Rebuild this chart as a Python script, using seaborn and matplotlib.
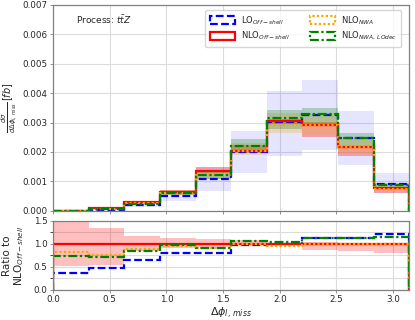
import numpy as np
import matplotlib
matplotlib.use("Agg")
import matplotlib.pyplot as plt
from matplotlib.patches import Patch
from matplotlib.ticker import MultipleLocator
import seaborn as sns

# ---- data ----
edges = np.pi * np.arange(11) / 10.0
nlo = np.array([0.000012, 0.00009, 0.00029, 0.00064, 0.00135, 0.00205, 0.00305, 0.00292, 0.00218, 0.00077])
nlo_lo = np.array([0.0000062, 0.0000495, 0.000247, 0.000589, 0.00127, 0.00199, 0.00296, 0.00251, 0.00185, 0.00062])
nlo_hi = np.array([0.0000192, 0.00012, 0.00034, 0.00072, 0.00149, 0.00223, 0.00311, 0.00301, 0.00222, 0.00078])
lo = np.array([0.0000044, 0.0000432, 0.000191, 0.000518, 0.00108, 0.00201, 0.00302, 0.00327, 0.00246, 0.00093])
lo_lo = np.array([0.0000028, 0.000027, 0.00012, 0.00033, 0.00066, 0.00128, 0.00188, 0.00207, 0.00156, 0.00060])
lo_hi = np.array([0.000006, 0.000059, 0.00026, 0.00071, 0.00148, 0.00273, 0.00408, 0.00446, 0.00338, 0.00128])
nwa = np.array([0.0000098, 0.0000684, 0.000255, 0.000614, 0.00123, 0.00203, 0.00293, 0.00292, 0.00218, 0.00076])
nwa_lo = np.array([0.0000086, 0.0000602, 0.000224, 0.00054, 0.00108, 0.0019, 0.00266, 0.00257, 0.00192, 0.00067])
nwa_hi = np.array([0.0000112, 0.000078, 0.000291, 0.0007, 0.0014, 0.00231, 0.00334, 0.00333, 0.00249, 0.00087])
lodec = np.array([0.0000088, 0.0000639, 0.000247, 0.000621, 0.00122, 0.00219, 0.00314, 0.00330, 0.00246, 0.00089])
lodec_lo = np.array([0.0000078, 0.0000569, 0.00022, 0.000553, 0.00109, 0.00195, 0.00279, 0.00294, 0.00219, 0.00079])
lodec_hi = np.array([0.0000095, 0.000069, 0.000267, 0.000671, 0.00132, 0.00244, 0.00341, 0.00349, 0.00264, 0.00096])

labels = ["LO$_{Off-shell}$", "NLO$_{Off-shell}$", "NLO$_{NWA}$", "NLO$_{NWA,\\,LOdec}$"]
colors = ["blue", "red", "orange", "green"]
styles = [(0, (3.5, 1.5)), "-", (0, (1, 1)), (0, (4, 1.2, 1, 1.2))]

sns.set_style("whitegrid", {"grid.color": "#dcdcdc", "axes.edgecolor": "#808080",
                            "xtick.bottom": True, "ytick.left": True})
plt.rcParams["font.family"] = ["DejaVu Sans"]

fig = plt.figure(figsize=(4.15, 3.2), dpi=100)
ax = fig.add_axes([0.128, 0.341, 0.858, 0.644])
axr = fig.add_axes([0.128, 0.094, 0.858, 0.216])

# bands main
ax.stairs(lo_hi, edges, baseline=lo_lo, fill=True, color="blue", alpha=0.1, lw=0)
ax.stairs(nlo_hi, edges, baseline=nlo_lo, fill=True, color="red", alpha=0.3, lw=0)
ax.stairs(nwa_hi, edges, baseline=nwa_lo, fill=True, color="orange", alpha=0.25, lw=0)
ax.stairs(lodec_hi, edges, baseline=lodec_lo, fill=True, color="green", alpha=0.25, lw=0)

series = [lo, nlo, nwa, lodec]
lw = 1.6
for v, c, s in zip(series, colors, styles):
    ax.stairs(v, edges, color=c, linestyle=s, lw=lw)

# ratio
axr.stairs(nlo_hi / nlo, edges, baseline=nlo_lo / nlo, fill=True, color="red", alpha=0.25, lw=0)
for v, c, s in zip(series, colors, styles):
    axr.stairs(v / nlo, edges, color=c, linestyle=s, lw=lw)

for a in (ax, axr):
    a.set_xlim(0, np.pi)
    a.xaxis.set_major_locator(MultipleLocator(0.5))
    a.tick_params(labelsize=6.3, length=2.5, width=0.6, color="#808080", pad=1.5)
    for sp in a.spines.values():
        sp.set_linewidth(0.9)
    a.grid(True, color="#dcdcdc", lw=0.8)

ax.set_ylim(0, 0.007)
ax.yaxis.set_major_locator(MultipleLocator(0.001))
ax.set_xticklabels([])
ax.set_ylabel(r"$\frac{d\sigma}{d\Delta\phi_{l,\,miss}}\,[fb]$", fontsize=7)
ax.yaxis.set_label_coords(-0.095, 0.5)

axr.set_ylim(0, 1.5)
axr.yaxis.set_major_locator(MultipleLocator(0.5))
axr.yaxis.set_minor_locator(MultipleLocator(0.25))
axr.grid(True, which="minor", axis="y", color="#dcdcdc", lw=0.8)
axr.set_ylabel("Ratio to\nNLO$_{Off-shell}$", fontsize=7.5, linespacing=1.1)
axr.yaxis.set_label_coords(-0.075, 0.5)
axr.set_xlabel(r"$\Delta\phi_{l,\,miss}$", fontsize=8, labelpad=1)

ax.text(0.065, 0.93, r"Process: $t\bar{t}Z$", transform=ax.transAxes, fontsize=6.5, va="center")

handles = [Patch(facecolor="none", edgecolor=c, linestyle=s, lw=lw) for c, s in zip(colors, styles)]
ax.legend(handles, labels, ncol=2, loc="upper right", fontsize=6, frameon=True,
          handlelength=3.0, handleheight=1.1, columnspacing=2.3, borderpad=0.5,
          labelspacing=0.4, bbox_to_anchor=(0.99, 0.995), framealpha=0.8)

fig.savefig("out.png", dpi=100)
